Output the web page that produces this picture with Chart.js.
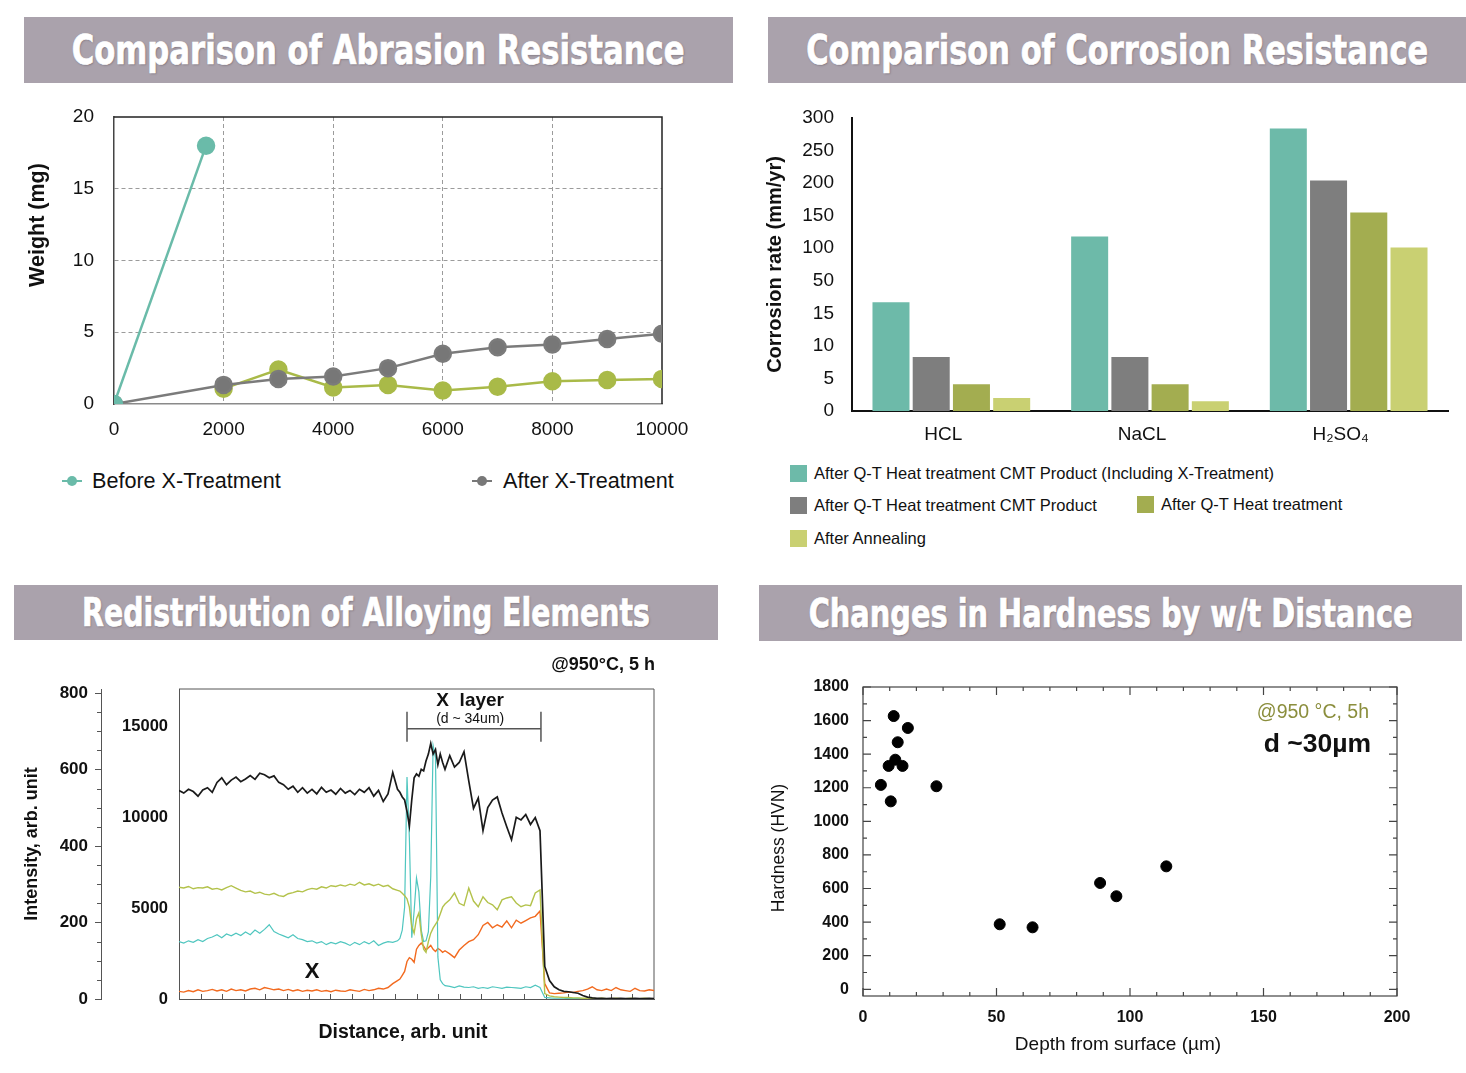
<!DOCTYPE html>
<html>
<head>
<meta charset="utf-8">
<script src="https://cdn.jsdelivr.net/npm/chart.js@4.4.1/dist/chart.umd.min.js"></script>
<style>
  body { margin: 0; width: 1466px; height: 1073px; position: relative; background: #fff; overflow: hidden;
         font-family: "Liberation Sans", Arial, sans-serif; color: #111; }
  .banner { position: absolute; background: #aaa2ac; display: flex; align-items: center; justify-content: center; }
  .banner span { display: inline-block; white-space: nowrap; color: #fff; font-weight: bold;
                 font-family: "Liberation Sans Narrow", "DejaVu Sans Condensed", "Liberation Sans", sans-serif;
                 -webkit-text-stroke: 0.7px #fff;
                 text-shadow: 1px 1px 2px rgba(70, 60, 70, 0.45); transform-origin: center; }
  .plot { position: absolute; }
  .legend-item { position: absolute; white-space: nowrap; }
  .lmark { position: absolute; width: 20px; height: 2px; top: -1px; }
  .lmark i { position: absolute; left: 5px; top: -4px; width: 10px; height: 10px; border-radius: 50%; }
  .sq { position: absolute; width: 17px; height: 17px; }
  .ltext { position: absolute; left: 24px; top: -1px; font-size: 16.5px; }
</style>
</head>
<body>

<div class="banner" style="left:24px;top:17px;width:709px;height:66px"><span data-w="613" style="font-size:41px">Comparison of Abrasion Resistance</span></div>
<div class="banner" style="left:768px;top:17px;width:698px;height:66px"><span data-w="622" style="font-size:41px">Comparison of Corrosion Resistance</span></div>
<div class="banner" style="left:14px;top:585px;width:704px;height:55px"><span data-w="568" style="font-size:39px">Redistribution of Alloying Elements</span></div>
<div class="banner" style="left:759px;top:585px;width:703px;height:56px"><span data-w="604" style="font-size:39px">Changes in Hardness by w/t Distance</span></div>

<div class="plot" style="left:0;top:100px;width:700px;height:340px"><canvas id="abrasion"></canvas></div>
<div class="plot" style="left:760px;top:100px;width:706px;height:350px"><canvas id="corrosion"></canvas></div>
<div class="plot" style="left:0;top:650px;width:700px;height:410px"><canvas id="alloying"></canvas></div>
<div class="plot" style="left:760px;top:670px;width:706px;height:400px"><canvas id="hardness"></canvas></div>

<!-- abrasion legend -->
<div class="legend-item" style="left:62px;top:481px">
  <div class="lmark" style="background:#6abba9"><i style="background:#6abba9"></i></div>
  <div style="position:absolute;left:30px;top:-13px;font-size:21.6px">Before X-Treatment</div>
</div>
<div class="legend-item" style="left:472px;top:481px">
  <div class="lmark" style="background:#787878"><i style="background:#787878"></i></div>
  <div style="position:absolute;left:31px;top:-13px;font-size:21.6px">After X-Treatment</div>
</div>

<!-- corrosion legend -->
<div class="legend-item" style="left:790px;top:465px">
  <div class="sq" style="background:#6dbaa9"></div>
  <div class="ltext">After Q-T Heat treatment CMT Product (Including X-Treatment)</div>
</div>
<div class="legend-item" style="left:790px;top:497px">
  <div class="sq" style="background:#7e7e7e"></div>
  <div class="ltext">After Q-T Heat treatment CMT Product</div>
</div>
<div class="legend-item" style="left:1137px;top:496px">
  <div class="sq" style="background:#a3ad50"></div>
  <div class="ltext">After Q-T Heat treatment</div>
</div>
<div class="legend-item" style="left:790px;top:530px">
  <div class="sq" style="background:#c9d072"></div>
  <div class="ltext">After Annealing</div>
</div>

<script>
// ---- Abrasion resistance (weight loss vs. cycles)
const cycles = [0, 2000, 3000, 4000, 5000, 6000, 7000, 8000, 9000, 10000];
const beforeCycles = [0, 1680];
const beforeWeight = [0, 18.0];
const afterWeight = [0, 1.33, 1.75, 1.92, 2.5, 3.5, 3.95, 4.15, 4.53, 4.9];
const afterWeightB = [null, 1.07, 2.4, 1.15, 1.33, 0.94, 1.2, 1.58, 1.67, 1.75];
const abrasionTicksX = [0, 2000, 4000, 6000, 8000, 10000];
const abrasionTicksY = [0, 5, 10, 15, 20];

// ---- Corrosion resistance
const solutions = ['HCL', 'NaCL', 'H₂SO₄'];
const corrosionTicks = [0, 5, 10, 15, 50, 100, 150, 200, 250, 300];
const rateCmtX = [27, 118, 284];
const rateCmt = [8.3, 8.3, 204];
const rateQT = [4.1, 4.1, 155];
const rateAnnealed = [2.0, 1.5, 101];

// ---- Line profile of alloying elements
const distance = [
  0, 1, 2, 3, 4, 5, 6, 7, 8, 9, 10, 11, 12, 13, 14, 15, 16, 17, 18, 19, 20, 21, 22, 23, 24, 25, 26, 27, 28, 29,
  30, 31, 32, 33, 34, 35, 36, 37, 38, 39, 40, 41, 42, 43, 44, 45, 46,
  46.5, 47, 47.5, 48, 48.5, 49, 49.5, 50, 50.5, 51, 51.5, 52, 52.5, 53, 53.5, 54, 54.5, 55, 55.5, 56,
  57, 58, 59, 60, 61, 62, 63, 64, 65, 66, 67, 68, 69, 70, 71, 72, 73, 74, 75, 76, 77, 78, 79, 80,
  81, 82, 83, 84, 85, 86, 87, 88, 89, 90, 91, 92, 93, 94, 95, 96, 97, 98, 99, 100
];
const profileBlack = [
  545, 538, 548, 542, 530, 546, 552, 540, 566, 578, 560, 572, 580, 568, 575, 584, 574, 590, 586, 578,
  583, 566, 560, 548, 556, 540, 552, 538, 548, 536, 553, 540, 546, 535, 550, 538, 545, 534, 548, 540,
  552, 530, 545, 516, 536, 592, 548,
  540, 528, 520, 490, 452, 520, 578, 588, 582, 600, 596, 622, 640, 668, 640, 652, 612, 640, 618, 600,
  636, 606, 618, 646, 570, 498, 525, 440, 500, 520, 528, 486, 450, 416, 475, 468, 482, 456, 474, 440,
  85, 48, 32, 24, 20, 19, 17, 15, 9, 5, 3, 2, 2, 1, 2, 1, 2, 1, 1, 2, 1, 1, 2, 1
];
const profileGreen = [
  292, 290, 294, 288, 291, 290, 293, 287, 289, 285, 291, 296, 290, 284, 280, 282, 276, 279, 274, 272,
  276, 270, 268, 275, 278, 282, 280, 286, 289, 287, 293, 290, 296, 294, 298, 295, 300, 297, 305, 298,
  301, 296, 300, 294, 297, 288, 284,
  282, 276, 270, 262, 240, 190, 172, 210, 225, 170, 130, 122, 150, 172, 185, 195, 205, 222, 240, 248,
  259, 277, 250, 244, 290, 256, 241, 267, 252, 246, 233, 259, 264, 267, 251, 241, 246, 244, 277, 285,
  14, 8, 6, 5, 4, 4, 3, 3, 2, 2, 2, 1, 2, 1, 1, 2, 1, 1, 2, 1, 1, 2, 1, 1
];
const profileCyan = [
  150, 146, 152, 148, 155, 150, 158, 162, 168, 160, 170, 165, 172, 166, 175, 168, 180, 172, 182, 194,
  176, 170, 165, 160, 168, 158, 155, 150, 152, 146, 150, 142, 148, 144, 150, 146, 140, 148, 142, 150,
  144, 152, 140, 146, 150, 148, 152,
  158, 180, 240, 580, 420, 160, 230, 316, 280, 180, 150, 152, 175, 320, 662, 630, 110, 50, 40, 35,
  33, 30, 34, 31, 30, 32, 28, 30, 28, 32, 30, 28, 31, 30, 29, 28, 32, 30, 36, 30,
  4, 3, 2, 2, 2, 1, 1, 2, 1, 1, 1, 1, 1, 1, 1, 1, 1, 1, 1, 1, 1, 1, 1, 1
];
const profileOrange = [
  20, 18, 22, 19, 24, 20, 22, 25, 21, 24, 20, 26, 22, 24, 21, 26, 28, 24, 30, 27,
  24, 26, 22, 25, 21, 24, 20, 23, 21, 24, 20, 22, 19, 23, 21, 20, 24, 22, 20, 25,
  22, 24, 28, 26, 30, 40, 48,
  52, 62, 72, 98, 108, 104, 96, 130, 140, 146, 138, 128, 134, 140, 130, 124, 132, 128, 122, 126,
  118, 108, 128, 140, 150, 155, 168, 192, 200, 186, 194, 188, 204, 186, 206, 198, 205, 212, 216, 230,
  40, 16, 14, 15, 16, 18, 17, 20, 22, 26, 32, 24, 22, 26, 22, 30, 24, 22, 20, 28, 22, 21, 24, 22
];
const intensityTicks = [0, 200, 400, 600, 800];
const countTicks = [0, 5000, 10000, 15000];

// ---- Hardness vs depth
const depth = [11.5, 16.8, 13.0, 12.1, 9.6, 14.8, 6.7, 27.5, 10.4, 88.8, 94.9, 113.6, 51.2, 63.5];
const hardness = [1627, 1556, 1471, 1367, 1330, 1330, 1217, 1209, 1119, 633, 554, 732, 387, 369];
const hardnessTicks = [0, 200, 400, 600, 800, 1000, 1200, 1400, 1600, 1800];
const depthTicks = [0, 50, 100, 150, 200];

const FONT = '"Liberation Sans", Arial, sans-serif';
Chart.defaults.font.family = FONT;
Chart.defaults.color = '#111';
Chart.defaults.animation = false;
Chart.defaults.maintainAspectRatio = false;
Chart.defaults.plugins.legend.display = false;
Chart.defaults.plugins.tooltip.enabled = false;

function toXY(xs, ys) {
    return xs.map((x, i) => ({x: x, y: ys[i]}));
}

function fixedTicks(values) {
    return function(scale) {
        scale.ticks = values.map(v => ({value: v}));
    };
}

// give an axis a fixed size and stop its labels from pushing the plot area around
function fixedSize(size) {
    return function(s) {
        if (s.isHorizontal()) s.height = size; else s.width = size;
        s.paddingTop = s.paddingBottom = s.paddingLeft = s.paddingRight = 0;
    };
}

const plain = v => String(v);

// axis title drawn at a given spot (some titles sit off-centre in the original)
function drawText(ctx, text, x, y, font, rotate) {
    ctx.save();
    ctx.font = font;
    ctx.fillStyle = '#111';
    ctx.textAlign = 'center';
    ctx.textBaseline = 'middle';
    ctx.translate(x, y);
    if (rotate) ctx.rotate(-Math.PI / 2);
    ctx.fillText(text, 0, 0);
    ctx.restore();
}

// ---------------- Abrasion chart
const abrasionFrame = {
    id: 'abrasionFrame',
    beforeDatasetsDraw(chart) {
        const {ctx, chartArea: a} = chart;
        ctx.save();
        ctx.strokeStyle = '#222';
        ctx.lineWidth = 1.5;
        ctx.beginPath();
        ctx.moveTo(a.left, a.top);
        ctx.lineTo(a.right, a.top);
        ctx.lineTo(a.right, a.bottom);
        ctx.stroke();
        ctx.restore();
        drawText(ctx, 'Weight (mg)', 38, 125, 'bold 21.5px ' + FONT, true);
    }
};

new Chart(document.getElementById('abrasion'), {
    type: 'line',
    data: {
        datasets: [
            {
                label: 'Before X-Treatment',
                data: toXY(beforeCycles, beforeWeight),
                borderColor: '#6abba9', backgroundColor: '#6abba9',
                borderWidth: 2.5, pointRadius: 8, pointHoverRadius: 8
            },
            {
                label: 'After X-Treatment',
                data: toXY(cycles, afterWeight),
                borderColor: '#7b7b7b', backgroundColor: '#777777',
                borderWidth: 2.5, pointRadius: 8, pointHoverRadius: 8
            },
            {
                label: 'After X-Treatment (B)',
                data: toXY(cycles, afterWeightB),
                borderColor: '#a9ba48', backgroundColor: '#a9ba48',
                borderWidth: 2.5, pointRadius: 8, pointHoverRadius: 8
            }
        ]
    },
    options: {
        layout: {padding: {top: 17, right: 38, bottom: 0, left: 0}, autoPadding: false},
        scales: {
            x: {
                type: 'linear', min: 0, max: 10000,
                afterBuildTicks: fixedTicks(abrasionTicksX),
                afterFit: fixedSize(36),
                ticks: {font: {size: 19}, padding: 14, maxRotation: 0, callback: plain},
                grid: {
                    drawTicks: false,
                    color: c => (c.tick && c.tick.value > 0 && c.tick.value < 10000) ? '#9b9b9b' : 'rgba(0,0,0,0)'
                },
                border: {color: '#8a8a8a', width: 1.5, dash: [4, 3]}
            },
            y: {
                min: 0, max: 20,
                afterBuildTicks: fixedTicks(abrasionTicksY),
                afterFit: fixedSize(114),
                ticks: {font: {size: 19}, padding: 20, callback: plain},
                grid: {
                    drawTicks: false,
                    color: c => (c.tick && c.tick.value > 0 && c.tick.value < 20) ? '#9b9b9b' : 'rgba(0,0,0,0)'
                },
                border: {color: '#444', width: 1.5, dash: [4, 3]}
            }
        }
    },
    plugins: [abrasionFrame]
});

// ---------------- Corrosion chart (broken value axis)
function brokenPosition(value) {
    const t = corrosionTicks;
    for (let i = 0; i < t.length - 1; i++) {
        if (value <= t[i + 1]) return i + (value - t[i]) / (t[i + 1] - t[i]);
    }
    return t.length - 1;
}

class BrokenScale extends Chart.LinearScale {
    getPixelForValue(value) {
        return this.getPixelForDecimal(brokenPosition(value) / (corrosionTicks.length - 1));
    }
    getValueForPixel(pixel) {
        const t = corrosionTicks;
        const p = this.getDecimalForPixel(pixel) * (t.length - 1);
        const i = Math.max(0, Math.min(t.length - 2, Math.floor(p)));
        return t[i] + (p - i) * (t[i + 1] - t[i]);
    }
}
BrokenScale.id = 'broken';
BrokenScale.defaults = Chart.LinearScale.defaults;
Chart.register(BrokenScale);

const barStyle = {categoryPercentage: 0.81, barPercentage: 0.92, borderWidth: 0};

new Chart(document.getElementById('corrosion'), {
    type: 'bar',
    data: {
        labels: solutions,
        datasets: [
            Object.assign({label: 'After Q-T Heat treatment CMT Product (Including X-Treatment)', data: rateCmtX, backgroundColor: '#6dbaa9'}, barStyle),
            Object.assign({label: 'After Q-T Heat treatment CMT Product', data: rateCmt, backgroundColor: '#7e7e7e'}, barStyle),
            Object.assign({label: 'After Q-T Heat treatment', data: rateQT, backgroundColor: '#a3ad50'}, barStyle),
            Object.assign({label: 'After Annealing', data: rateAnnealed, backgroundColor: '#c9d072'}, barStyle)
        ]
    },
    options: {
        layout: {padding: {top: 18, right: 18, bottom: 0, left: 0}, autoPadding: false},
        scales: {
            x: {
                afterFit: fixedSize(39),
                ticks: {font: {size: 19}, padding: 12, labelOffset: -8},
                grid: {display: false, drawTicks: false},
                border: {color: '#111', width: 2}
            },
            y: {
                type: 'broken', min: 0, max: 300,
                afterBuildTicks: fixedTicks(corrosionTicks),
                afterFit: fixedSize(92),
                ticks: {font: {size: 19}, padding: 18, callback: plain},
                grid: {display: false, drawTicks: false},
                border: {color: '#111', width: 2},
                title: {display: true, text: 'Corrosion rate (mm/yr)', font: {size: 20, weight: 'bold'}, padding: {top: 3}}
            }
        }
    }
});

// ---------------- Alloying elements line profile
const alloyDecor = {
    id: 'alloyDecor',
    beforeDatasetsDraw(chart) {
        const {ctx, chartArea: a, scales} = chart;
        const x = scales.x, y2 = scales.y2;
        ctx.save();
        ctx.strokeStyle = '#555';
        ctx.lineWidth = 1;
        ctx.beginPath();
        ctx.moveTo(a.left, a.top);
        ctx.lineTo(a.right, a.top);
        ctx.lineTo(a.right, a.bottom);
        ctx.stroke();
        // small inward ticks along the distance axis
        ctx.beginPath();
        for (let k = 1; k < 22; k++) {
            const px = Math.round(x.getPixelForValue(k * 100 / 22)) + 0.5;
            ctx.moveTo(px, a.bottom);
            ctx.lineTo(px, a.bottom - 5);
        }
        // major / minor ticks on the outer intensity axis
        const ox = y2.right;
        for (let v = 0; v <= 800; v += 50) {
            const py = Math.round(y2.getPixelForValue(v)) + 0.5;
            ctx.moveTo(ox, py);
            ctx.lineTo(ox - (v % 200 === 0 ? 6 : 4), py);
        }
        ctx.stroke();
        ctx.restore();
        drawText(ctx, 'Distance, arb. unit', 403, 383, 'bold 19.5px ' + FONT, false);
    },
    afterDraw(chart) {
        const {ctx, chartArea: a, scales: {x, y2}} = chart;
        ctx.save();
        // X layer bracket
        const x0 = x.getPixelForValue(48), x1 = x.getPixelForValue(76.2);
        const yb = y2.getPixelForValue(706);
        ctx.strokeStyle = '#555';
        ctx.lineWidth = 1.5;
        ctx.beginPath();
        ctx.moveTo(x0, yb - 17); ctx.lineTo(x0, yb + 13);
        ctx.moveTo(x1, yb - 17); ctx.lineTo(x1, yb + 13);
        ctx.moveTo(x0, yb); ctx.lineTo(x1, yb);
        ctx.stroke();
        ctx.fillStyle = '#111';
        ctx.textAlign = 'center';
        ctx.textBaseline = 'middle';
        const xm = x.getPixelForValue(61.3);
        ctx.font = 'bold 19px ' + FONT;
        ctx.fillText('X  layer', xm, yb - 28);
        ctx.font = '14px ' + FONT;
        ctx.fillText('(d ~ 34um)', xm, yb - 10);
        ctx.font = 'bold 22px ' + FONT;
        ctx.fillText('X', x.getPixelForValue(28), y2.getPixelForValue(70));
        ctx.textAlign = 'right';
        ctx.font = 'bold 18px ' + FONT;
        ctx.fillText('@950°C, 5 h', a.right + 1, a.top - 24);
        ctx.restore();
    }
};

const profileLine = {pointRadius: 0, borderWidth: 1.4, tension: 0, yAxisID: 'y2'};

new Chart(document.getElementById('alloying'), {
    type: 'line',
    data: {
        datasets: [
            Object.assign({label: 'black', data: toXY(distance, profileBlack), borderColor: '#1a1a1a'}, profileLine, {borderWidth: 1.7}),
            Object.assign({label: 'green', data: toXY(distance, profileGreen), borderColor: '#b3c24b'}, profileLine),
            Object.assign({label: 'cyan', data: toXY(distance, profileCyan), borderColor: '#4fc6bf'}, profileLine, {borderWidth: 1.2}),
            Object.assign({label: 'orange', data: toXY(distance, profileOrange), borderColor: '#f26a1f'}, profileLine)
        ]
    },
    options: {
        layout: {padding: {top: 39, right: 46, bottom: 0, left: 0}, autoPadding: false},
        scales: {
            x: {
                type: 'linear', min: 0, max: 100,
                afterFit: fixedSize(61),
                ticks: {display: false},
                grid: {display: false, drawTicks: false},
                border: {color: '#555', width: 1}
            },
            y: {
                position: 'left', weight: 0, min: 0, max: 17060,
                afterBuildTicks: fixedTicks(countTicks),
                afterFit: fixedSize(78),
                ticks: {font: {size: 16.5, weight: 'bold'}, padding: 11, callback: plain},
                grid: {display: false, drawTicks: false},
                border: {color: '#555', width: 1}
            },
            y2: {
                position: 'left', weight: 10, min: 0, max: 810,
                afterBuildTicks: fixedTicks(intensityTicks),
                afterFit: fixedSize(101),
                ticks: {font: {size: 17, weight: 'bold'}, padding: 13, callback: plain},
                grid: {display: false, drawTicks: false},
                border: {color: '#555', width: 1},
                title: {display: true, text: 'Intensity, arb. unit', font: {size: 18, weight: 'bold'}, padding: {top: 21}}
            }
        }
    },
    plugins: [alloyDecor]
});

// ---------------- Hardness vs depth
const hardnessDecor = {
    id: 'hardnessDecor',
    beforeDatasetsDraw(chart) {
        const {ctx, chartArea: a, scales: {x, y}} = chart;
        ctx.save();
        ctx.strokeStyle = '#444';
        ctx.lineWidth = 1.2;
        ctx.strokeRect(a.left, a.top, a.right - a.left, a.bottom - a.top);
        ctx.beginPath();
        for (let v = 0; v <= 1800; v += 100) {
            const py = y.getPixelForValue(v);
            const len = v % 200 === 0 ? 8 : 4;
            ctx.moveTo(a.left, py); ctx.lineTo(a.left + len, py);
            ctx.moveTo(a.right, py); ctx.lineTo(a.right - len, py);
        }
        for (let v = 0; v <= 200; v += 10) {
            const px = x.getPixelForValue(v);
            const len = v % 50 === 0 ? 8 : 4;
            ctx.moveTo(px, a.bottom); ctx.lineTo(px, a.bottom - len);
            ctx.moveTo(px, a.top); ctx.lineTo(px, a.top + len);
        }
        ctx.stroke();
        ctx.restore();
        drawText(ctx, 'Depth from surface (µm)', 358, 375, '19px ' + FONT, false);
        drawText(ctx, 'Hardness (HVN)', 19, 178, '17.5px ' + FONT, true);
    },
    afterDraw(chart) {
        const {ctx, chartArea: a} = chart;
        ctx.save();
        ctx.textAlign = 'right';
        ctx.textBaseline = 'middle';
        ctx.fillStyle = '#8b8e3d';
        ctx.font = '19.5px ' + FONT;
        ctx.fillText('@950 °C, 5h', a.right - 28, a.top + 26);
        ctx.fillStyle = '#111';
        ctx.font = 'bold 26.5px ' + FONT;
        ctx.fillText('d ~30µm', a.right - 26, a.top + 58);
        ctx.restore();
    }
};

new Chart(document.getElementById('hardness'), {
    type: 'scatter',
    data: {
        datasets: [{
            label: 'Hardness',
            data: toXY(depth, hardness),
            backgroundColor: '#000', borderColor: '#000',
            pointRadius: 5.5, pointHoverRadius: 5.5
        }]
    },
    options: {
        layout: {padding: {top: 17, right: 69, bottom: 0, left: 0}, autoPadding: false},
        scales: {
            x: {
                type: 'linear', min: 0, max: 200,
                afterBuildTicks: fixedTicks(depthTicks),
                afterFit: fixedSize(74),
                ticks: {font: {size: 16, weight: 'bold'}, padding: 12, callback: plain},
                grid: {display: false, drawTicks: false},
                border: {display: false}
            },
            y: {
                min: -40, max: 1800,
                afterBuildTicks: fixedTicks(hardnessTicks),
                afterFit: fixedSize(103),
                ticks: {font: {size: 16, weight: 'bold'}, padding: 14, callback: plain},
                grid: {display: false, drawTicks: false},
                border: {display: false}
            }
        }
    },
    plugins: [hardnessDecor]
});

// fit banner titles to their printed width
function fitBanners() {
    document.querySelectorAll('.banner span').forEach(s => {
        s.style.transform = 'none';
        const w = s.getBoundingClientRect().width;
        if (w > 0) s.style.transform = 'scaleX(' + (Number(s.dataset.w) / w) + ')';
    });
}
fitBanners();
if (document.fonts) document.fonts.ready.then(fitBanners);
</script>
</body>
</html>
